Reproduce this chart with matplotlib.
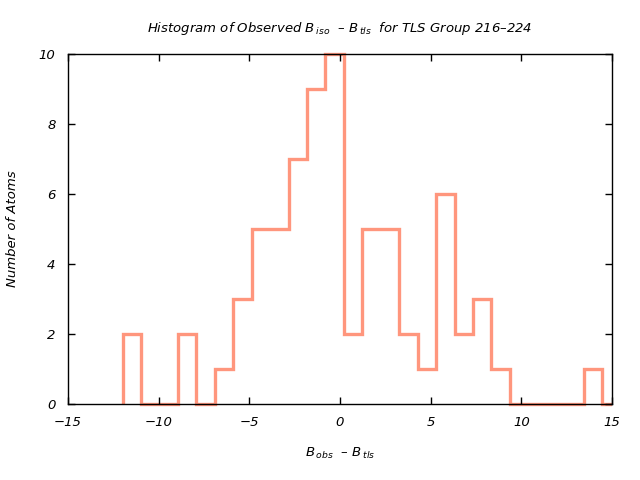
import matplotlib
matplotlib.use('Agg')
import matplotlib.pyplot as plt
import numpy as np

# histogram: 26 bins, first edge ~ -11.99, width ~1.017
first_edge = -11.99
bin_width = 1.017
counts = [2, 0, 0, 2, 0, 1, 3, 5, 5, 7, 9, 10,
          2, 5, 5, 2, 1, 6, 2, 3, 1, 0, 0, 0, 0, 1]

plt.rcParams['font.family'] = 'DejaVu Sans'
plt.rcParams['mathtext.fontset'] = 'dejavusans'

edges = first_edge + bin_width * np.arange(len(counts) + 1)
# trailing empty bin so the line runs along zero to the right edge
edges = np.append(edges, edges[-1] + bin_width)
vals = np.append(counts, 0)

fig = plt.figure(figsize=(6.4, 4.8), dpi=100)
ax = fig.add_axes([68/640, 1 - 404/480, 544/640, 350/480])

st = ax.stairs(vals, edges, baseline=0, color='#ff967d', linewidth=2.4)
ax.set_xlim(-15, 15)
ax.set_ylim(0, 10)
# let the top of the peak sit on the frame, but cut the tail at x=15
st.set_clip_box(None)
st.set_clip_on(True)
from matplotlib.transforms import Bbox, TransformedBbox
st.set_clip_box(TransformedBbox(Bbox([[0, -0.05], [1, 1.05]]), ax.transAxes))

ax.set_xticks(np.arange(-15, 16, 5))
ax.set_yticks(np.arange(0, 11, 2))
ax.tick_params(direction='in', top=True, right=True, length=5, width=1, labelsize=9.5)
ax.tick_params(axis='x', pad=9)
ax.tick_params(axis='y', pad=9)
for lbl in ax.get_xticklabels() + ax.get_yticklabels():
    lbl.set_style('italic')
for s in ax.spines.values():
    s.set_linewidth(1)

ax.set_title(r'Histogram of Observed B$_{\,iso}$  – B$_{\,tls}$  for TLS Group 216–224',
             fontsize=9.5, style='italic', pad=16)
ax.set_xlabel(r'B$_{\,obs}$  – B$_{\,tls}$', fontsize=9.5, style='italic', labelpad=12)
ax.set_ylabel('Number of Atoms', fontsize=9.5, style='italic', labelpad=14)

fig.savefig('out.png', dpi=100)
